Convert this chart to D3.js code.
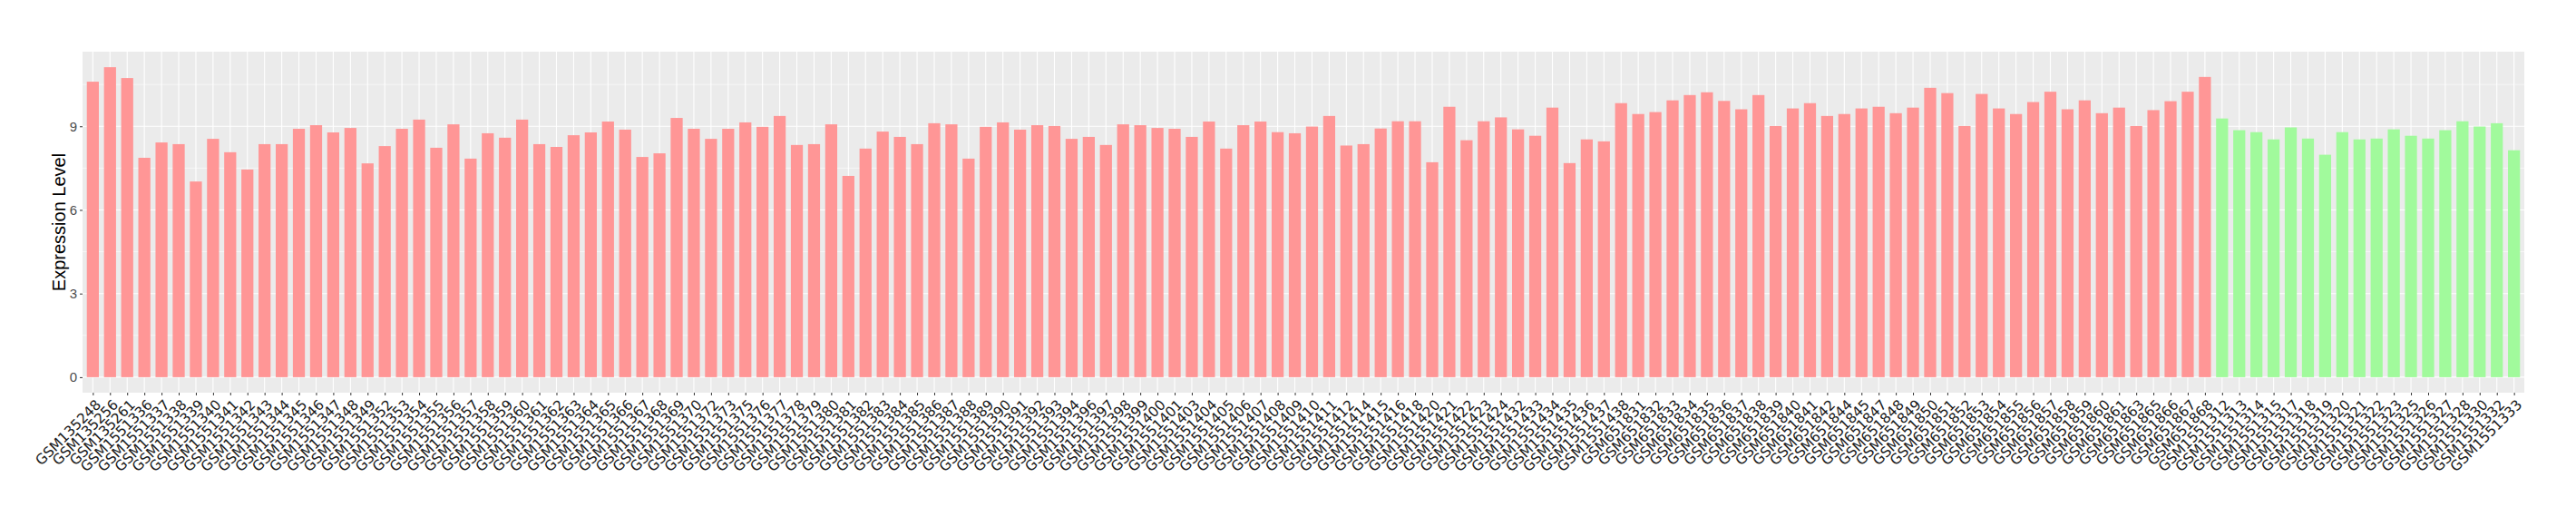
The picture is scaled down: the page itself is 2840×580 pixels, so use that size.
<!DOCTYPE html>
<html>
<head>
<meta charset="utf-8">
<script src="https://cdn.jsdelivr.net/npm/d3@7"></script>
<style>
  html, body { margin: 0; padding: 0; background: #fff; }
  svg { display: block; }
</style>
</head>
<body>
<svg id="chart" width="2840" height="580"></svg>
<script>
// ---- data ----
const pinkSamples = [
  "GSM135248","GSM135256","GSM135261",
  "GSM1551336","GSM1551337","GSM1551338","GSM1551339","GSM1551340","GSM1551341","GSM1551342",
  "GSM1551343","GSM1551344","GSM1551345","GSM1551346","GSM1551347","GSM1551348","GSM1551349",
  "GSM1551352","GSM1551353","GSM1551354","GSM1551355","GSM1551356","GSM1551357","GSM1551358",
  "GSM1551359","GSM1551360","GSM1551361","GSM1551362","GSM1551363","GSM1551364","GSM1551365",
  "GSM1551366","GSM1551367","GSM1551368","GSM1551369","GSM1551370","GSM1551372","GSM1551373",
  "GSM1551375","GSM1551376","GSM1551377","GSM1551378","GSM1551379","GSM1551380","GSM1551381",
  "GSM1551382","GSM1551383","GSM1551384","GSM1551385","GSM1551386","GSM1551387","GSM1551388",
  "GSM1551389","GSM1551390","GSM1551391","GSM1551392","GSM1551393","GSM1551394","GSM1551396",
  "GSM1551397","GSM1551398","GSM1551399","GSM1551400","GSM1551401","GSM1551403","GSM1551404",
  "GSM1551405","GSM1551406","GSM1551407","GSM1551408","GSM1551409","GSM1551410","GSM1551411",
  "GSM1551412","GSM1551414","GSM1551415","GSM1551416","GSM1551418","GSM1551420","GSM1551421",
  "GSM1551422","GSM1551423","GSM1551424","GSM1551432","GSM1551433","GSM1551434","GSM1551435",
  "GSM1551436","GSM1551437","GSM1551438",
  "GSM651831","GSM651832","GSM651833","GSM651834","GSM651835","GSM651836","GSM651837",
  "GSM651838","GSM651839","GSM651840","GSM651841","GSM651842","GSM651844","GSM651845",
  "GSM651847","GSM651848","GSM651849","GSM651850","GSM651851","GSM651852","GSM651853",
  "GSM651854","GSM651855","GSM651856","GSM651857","GSM651858","GSM651859","GSM651860",
  "GSM651861","GSM651863","GSM651865","GSM651866","GSM651867","GSM651868"
];
const pinkValues = [
  10.60,11.12,10.73,
  7.87,8.42,8.36,7.02,8.55,8.07,7.45,
  8.36,8.36,8.91,9.04,8.78,8.94,7.67,
  8.29,8.91,9.24,8.23,9.07,7.84,8.75,
  8.59,9.24,8.36,8.26,8.68,8.78,9.17,
  8.88,7.90,8.03,9.30,8.91,8.55,8.91,
  9.14,8.98,9.37,8.33,8.36,9.07,7.22,
  8.20,8.81,8.62,8.36,9.11,9.07,7.84,
  8.98,9.14,8.88,9.04,9.01,8.55,8.62,
  8.33,9.07,9.04,8.94,8.91,8.62,9.17,
  8.20,9.04,9.17,8.79,8.75,8.99,9.37,
  8.31,8.36,8.92,9.18,9.18,7.71,9.70,
  8.50,9.18,9.32,8.89,8.66,9.67,7.68,
  8.53,8.46,9.83,
  9.44,9.51,9.93,10.12,10.22,9.91,9.61,
  10.12,9.01,9.64,9.83,9.37,9.44,9.64,
  9.70,9.47,9.67,10.38,10.19,9.01,10.16,
  9.64,9.44,9.87,10.24,9.61,9.93,9.47,
  9.67,9.01,9.58,9.90,10.24,10.77
];
const greenSamples = [
  "GSM1551312","GSM1551313","GSM1551314","GSM1551315","GSM1551317","GSM1551318",
  "GSM1551319","GSM1551320","GSM1551321","GSM1551322","GSM1551323","GSM1551325",
  "GSM1551326","GSM1551327","GSM1551328","GSM1551330","GSM1551332","GSM1551333"
];
const greenValues = [
  9.28,8.86,8.79,8.53,8.96,8.56,
  7.98,8.79,8.53,8.56,8.89,8.66,
  8.56,8.86,9.18,8.99,9.11,8.14
];
const groupNames = ["pink", "green"];
const groupColors = ["#FF9696", "#A1FA9C"];
const yTicks = [0, 3, 6, 9];
const yMinorTicks = [1.5, 4.5, 7.5, 10.5];
const yTitle = "Expression Level";

// ---- build rows ----
const rows = pinkSamples.map((s, i) => ({ sample: s, value: pinkValues[i], group: "pink" }))
  .concat(greenSamples.map((s, i) => ({ sample: s, value: greenValues[i], group: "green" })));

// ---- layout ----
const panel = { left: 91, right: 2783, top: 57, bottom: 433 };
const svg = d3.select("#chart");

const maxV = d3.max(rows, d => d.value);
const x = d3.scalePoint()
  .domain(rows.map(d => d.sample))
  .range([panel.left, panel.right])
  .padding(0.6);
const y = d3.scaleLinear()
  .domain([-0.05 * maxV, maxV * 1.05])
  .range([panel.bottom, panel.top]);
const color = d3.scaleOrdinal().domain(groupNames).range(groupColors);
const barW = x.step() * 0.7;

// panel background
svg.append("rect")
  .attr("x", panel.left).attr("y", panel.top)
  .attr("width", panel.right - panel.left)
  .attr("height", panel.bottom - panel.top)
  .attr("fill", "#EBEBEB");

const grid = svg.append("g");
grid.selectAll("line.minor").data(yMinorTicks).join("line")
  .attr("x1", panel.left).attr("x2", panel.right)
  .attr("y1", d => y(d)).attr("y2", d => y(d))
  .attr("stroke", "#fff").attr("stroke-width", 0.6);
grid.selectAll("line.majorY").data(yTicks).join("line")
  .attr("x1", panel.left).attr("x2", panel.right)
  .attr("y1", d => y(d)).attr("y2", d => y(d))
  .attr("stroke", "#fff").attr("stroke-width", 1.1);
grid.selectAll("line.majorX").data(rows).join("line")
  .attr("x1", d => x(d.sample)).attr("x2", d => x(d.sample))
  .attr("y1", panel.top).attr("y2", panel.bottom)
  .attr("stroke", "#fff").attr("stroke-width", 1.1);

// bars
svg.append("g").selectAll("rect").data(rows).join("rect")
  .attr("x", d => x(d.sample) - barW / 2)
  .attr("width", barW)
  .attr("y", d => y(d.value))
  .attr("height", d => y(0) - y(d.value))
  .attr("fill", d => color(d.group));

// y axis
const yAxis = d3.axisLeft(y).tickValues(yTicks).tickSize(3).tickPadding(3).tickFormat(d3.format("d"));
const gy = svg.append("g").attr("transform", `translate(${panel.left},0)`).call(yAxis);
gy.select(".domain").remove();
gy.selectAll(".tick line").attr("stroke", "#333333").attr("stroke-width", 1);
gy.selectAll(".tick text")
  .attr("font-family", "'Liberation Sans', Arial, sans-serif")
  .attr("font-size", 15).attr("fill", "#4D4D4D");

// x axis
const xAxis = d3.axisBottom(x).tickSize(3).tickPadding(0);
const gx = svg.append("g").attr("transform", `translate(0,${panel.bottom})`).call(xAxis);
gx.select(".domain").remove();
gx.selectAll(".tick line").attr("stroke", "#333333").attr("stroke-width", 1);
gx.selectAll(".tick text")
  .attr("font-family", "'DejaVu Sans', sans-serif")
  .attr("font-size", 15.5)
  .attr("fill", "#1A1A1A")
  .attr("text-anchor", "end")
  .attr("x", 0).attr("y", 0).attr("dy", "0.76em")
  .attr("transform", "translate(1,6) rotate(-45)");

// y title
svg.append("text")
  .attr("transform", `translate(72,${(panel.top + panel.bottom) / 2}) rotate(-90)`)
  .attr("text-anchor", "middle")
  .attr("font-family", "'Liberation Sans', Arial, sans-serif")
  .attr("font-size", 20)
  .attr("fill", "#000")
  .text(yTitle);
</script>
</body>
</html>
